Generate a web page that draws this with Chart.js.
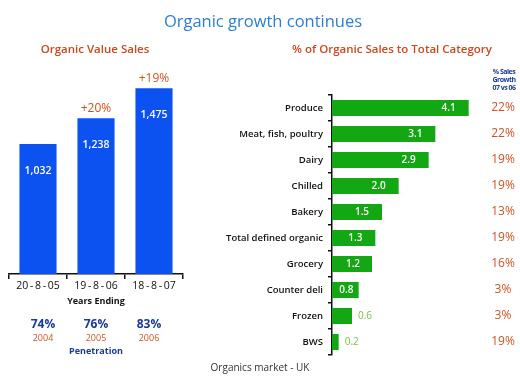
<!DOCTYPE html>
<html>
<head>
<meta charset="utf-8">
<script src="https://cdn.jsdelivr.net/npm/chart.js@4"></script>
<style>
  body { margin: 0; background: #fff; font-family: 'Open Sans', sans-serif; }
  #wrap { position: relative; width: 520px; height: 383px; overflow: hidden; }
  .txt { position: absolute; white-space: nowrap; transform: translate(-50%, -50%); }
  #value-chart { position: absolute; left: 0; top: 0; }
  #share-chart { position: absolute; left: 200px; top: 0; }
</style>
</head>
<body>
<div id="wrap">
  <canvas id="value-chart" width="195" height="300"></canvas>
  <canvas id="share-chart" width="320" height="383"></canvas>
  <div class="txt" style="left:263px;top:20px;font-size:16.5px;color:#2a7fd2;">Organic growth continues</div>
  <div class="txt" style="left:95px;top:48px;font-size:11.5px;font-weight:600;color:#d2461e;">Organic Value Sales</div>
  <div class="txt" style="left:392px;top:48px;font-size:11.5px;font-weight:600;color:#d2461e;">% of Organic Sales to Total Category</div>
  <div class="txt" style="left:504px;top:80px;font-size:7px;font-weight:700;color:#1a3a9a;text-align:center;line-height:8px;letter-spacing:-0.5px;">% Sales<br>Growth<br>07 vs 06</div>
  <div class="txt" style="left:96px;top:300px;font-size:9px;font-weight:700;color:#111;">Years Ending</div>
  <div id="penetration"></div>
  <div class="txt" style="left:96px;top:350px;font-size:9px;font-weight:700;color:#1a3a9a;">Penetration</div>
  <div class="txt" style="left:260px;top:367px;font-size:10px;color:#333;">Organics market - UK</div>
</div>
<script>
const yearLabels = ['20\u2009-\u20098\u2009-\u200905', '19\u2009-\u20098\u2009-\u200906', '18\u2009-\u20098\u2009-\u200907'];
const valueSales = [1032, 1238, 1475];
const valueGrowth = ['', '+20%', '+19%'];

const penetration = ['74%', '76%', '83%'];
const penetrationYears = ['2004', '2005', '2006'];

const categories = [
  'Produce', 'Meat, fish, poultry', 'Dairy', 'Chilled', 'Bakery',
  'Total defined organic', 'Grocery', 'Counter deli', 'Frozen', 'BWS',
];
const organicShare = [4.1, 3.1, 2.9, 2.0, 1.5, 1.3, 1.2, 0.8, 0.6, 0.2];
const salesGrowth = ['22%', '22%', '19%', '19%', '13%', '19%', '16%', '3%', '3%', '19%'];

const FONT = "'Open Sans', sans-serif";
const BLUE = '#0b52f0';
const GREEN = '#13a813';
const ORANGE = '#d2521e';

// penetration row under the left chart
const penCenters = [43, 96, 149];
const pen = document.getElementById('penetration');
penetration.forEach((p, i) => {
  pen.insertAdjacentHTML('beforeend',
    `<div class="txt" style="left:${penCenters[i]}px;top:323px;font-size:12px;font-weight:700;color:#1a3a9a;">${p}</div>` +
    `<div class="txt" style="left:${penCenters[i]}px;top:337px;font-size:9px;color:${ORANGE};">${penetrationYears[i]}</div>`);
});

const valueLabels = {
  id: 'valueLabels',
  afterDatasetsDraw(chart) {
    const { ctx } = chart;
    const meta = chart.getDatasetMeta(0);
    ctx.save();
    ctx.textAlign = 'center';
    ctx.textBaseline = 'middle';
    meta.data.forEach((bar, i) => {
      ctx.fillStyle = '#fff';
      ctx.font = `600 10.5px ${FONT}`;
      ctx.fillText(valueSales[i].toLocaleString('en-US'), bar.x, bar.y + 27);
      if (valueGrowth[i]) {
        ctx.fillStyle = ORANGE;
        ctx.font = `12px ${FONT}`;
        ctx.fillText(valueGrowth[i], bar.x, bar.y - 10);
      }
    });
    ctx.restore();
  },
};

new Chart(document.getElementById('value-chart'), {
  type: 'bar',
  data: {
    labels: yearLabels,
    datasets: [{
      data: valueSales,
      backgroundColor: BLUE,
      barPercentage: 0.64,
      categoryPercentage: 1,
    }],
  },
  options: {
    responsive: false,
    animation: false,
    layout: { padding: { left: 9, right: 12, top: 60, bottom: 0 } },
    plugins: { legend: { display: false }, tooltip: { enabled: false } },
    scales: {
      x: {
        afterFit: (s) => { s.height = 26; },
        border: { display: true, color: '#111', width: 1.5 },
        grid: { drawOnChartArea: false, tickLength: 5, color: '#111', lineWidth: 1.5 },
        ticks: { color: '#111', font: { family: FONT, size: 10.5 }, padding: 1 },
      },
      y: { display: false, min: 0, max: 1700 },
    },
  },
  plugins: [valueLabels],
});

const shareLabels = {
  id: 'shareLabels',
  afterDatasetsDraw(chart) {
    const { ctx } = chart;
    const meta = chart.getDatasetMeta(0);
    ctx.save();
    ctx.textBaseline = 'middle';
    meta.data.forEach((bar, i) => {
      const len = bar.x - bar.base;
      const text = organicShare[i].toFixed(1);
      if (len > 20) {
        ctx.fillStyle = '#fff';
        ctx.font = `600 10px ${FONT}`;
        ctx.textAlign = 'center';
        ctx.fillText(text, Math.max(bar.base + len / 2 + 1, bar.x - 20), bar.y);
      } else {
        ctx.fillStyle = '#7cc242';
        ctx.font = `10px ${FONT}`;
        ctx.textAlign = 'left';
        ctx.fillText(text, bar.x + 6, bar.y);
      }
      ctx.fillStyle = ORANGE;
      ctx.font = `12px ${FONT}`;
      ctx.textAlign = 'center';
      ctx.fillText(salesGrowth[i], 303, bar.y);
    });
    ctx.restore();
  },
};

new Chart(document.getElementById('share-chart'), {
  type: 'bar',
  data: {
    labels: categories,
    datasets: [{
      data: organicShare,
      backgroundColor: GREEN,
      barPercentage: 0.62,
      categoryPercentage: 1,
    }],
  },
  options: {
    indexAxis: 'y',
    responsive: false,
    animation: false,
    layout: { padding: { left: 0, right: 38, top: 95, bottom: 28 } },
    plugins: { legend: { display: false }, tooltip: { enabled: false } },
    scales: {
      y: {
        afterFit: (s) => { s.width = 132; },
        border: { display: true, color: '#111', width: 1.5 },
        grid: { drawOnChartArea: false, tickLength: 4, color: '#111', lineWidth: 1.5 },
        ticks: { color: '#111', font: { family: FONT, size: 9.5, weight: '600' }, padding: 5 },
      },
      x: { display: false, min: 0, max: 4.5 },
    },
  },
  plugins: [shareLabels],
});
</script>
</body>
</html>
